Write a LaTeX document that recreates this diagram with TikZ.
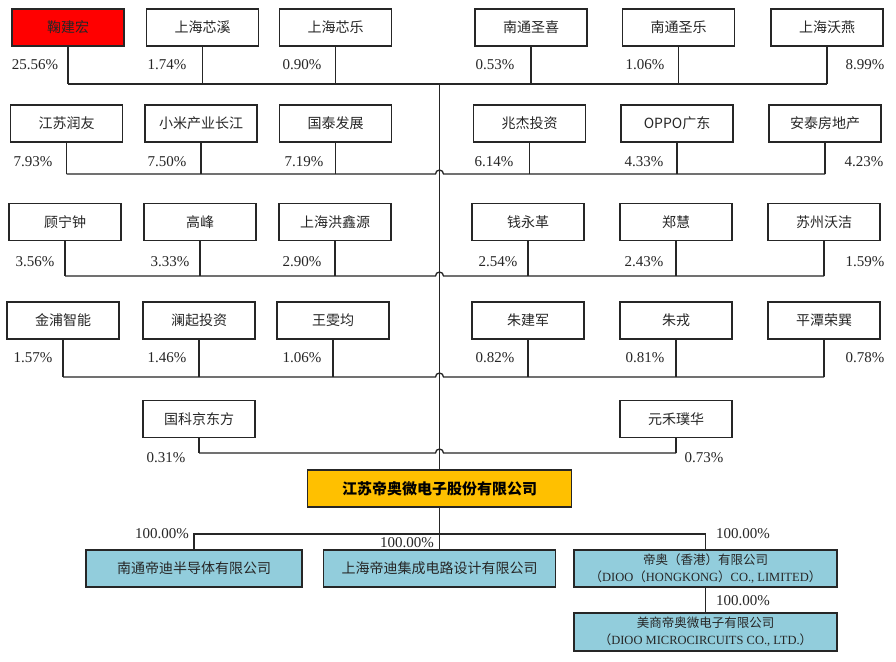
\documentclass[tikz,border=0pt]{standalone}
\usepackage{fontspec}
\setmainfont{Liberation Serif}
\newfontfamily\cjk{Noto Sans CJK SC}
\definecolor{redbox}{HTML}{FF0000}
\definecolor{orangebox}{HTML}{FFC000}
\definecolor{bluebox}{HTML}{92CDDC}
\definecolor{ink}{HTML}{262626}
\begin{document}
\begin{tikzpicture}[x=1pt,y=-1pt]
\tikzset{
  box/.style={draw=ink, line width=1.3pt, minimum width=112pt, minimum height=37pt, inner sep=0pt, text=ink, font=\cjk\fontsize{14}{16}\selectfont},
  subbox/.style={box, fill=bluebox, minimum height=37pt},
  pct/.style={inner sep=0pt, text=ink, font=\fontsize{15}{17}\selectfont},
  ln/.style={draw=ink, line width=1.3pt},
}
\fill[white] (0,0) rectangle (896,661);
\useasboundingbox (0,0) rectangle (896,661);

% Row 1
\node[box, fill=redbox] (a1) at (68,27.5) {鞠建宏};
\node[box] (b1) at (202.5,27.5) {上海芯溪};
\node[box] (c1) at (335.5,27.5) {上海芯乐};
\node[box] (d1) at (531,27.5) {南通圣喜};
\node[box] (e1) at (678.5,27.5) {南通圣乐};
\node[box] (f1) at (827,27.5) {上海沃燕};
\node[pct] (pa1) at (35,65) {25.56\%};
\node[pct] (pb1) at (167,65) {1.74\%};
\node[pct] (pc1) at (302,65) {0.90\%};
\node[pct] (pd1) at (495,65) {0.53\%};
\node[pct] (pe1) at (645,65) {1.06\%};
\node[pct] (pf1) at (865,65) {8.99\%};

% Row 2
\node[box] (a2) at (66.5,123.5) {江苏润友};
\node[box] (b2) at (201,123.5) {小米产业长江};
\node[box] (c2) at (335.5,123.5) {国泰发展};
\node[box] (d2) at (529.5,123.5) {兆杰投资};
\node[box] (e2) at (677,123.5) {OPPO广东};
\node[box] (f2) at (825,123.5) {安泰房地产};
\node[pct] (pa2) at (33,162) {7.93\%};
\node[pct] (pb2) at (167,162) {7.50\%};
\node[pct] (pc2) at (304,162) {7.19\%};
\node[pct] (pd2) at (494,162) {6.14\%};
\node[pct] (pe2) at (644,162) {4.33\%};
\node[pct] (pf2) at (864,162) {4.23\%};

% Row 3
\node[box] (a3) at (65,222) {顾宁钟};
\node[box] (b3) at (200,222) {高峰};
\node[box] (c3) at (335,222) {上海洪鑫源};
\node[box] (d3) at (528,222) {钱永革};
\node[box] (e3) at (676,222) {郑慧};
\node[box] (f3) at (824,222) {苏州沃洁};
\node[pct] (pa3) at (35,262) {3.56\%};
\node[pct] (pb3) at (170,262) {3.33\%};
\node[pct] (pc3) at (302,262) {2.90\%};
\node[pct] (pd3) at (498,262) {2.54\%};
\node[pct] (pe3) at (644,262) {2.43\%};
\node[pct] (pf3) at (865,262) {1.59\%};

% Row 4
\node[box] (a4) at (63,320.5) {金浦智能};
\node[box] (b4) at (199,320.5) {澜起投资};
\node[box] (c4) at (333,320.5) {王雯均};
\node[box] (d4) at (528,320.5) {朱建军};
\node[box] (e4) at (676,320.5) {朱戎};
\node[box] (f4) at (824,320.5) {平潭荣巽};
\node[pct] (pa4) at (33,358) {1.57\%};
\node[pct] (pb4) at (167,358) {1.46\%};
\node[pct] (pc4) at (302,358) {1.06\%};
\node[pct] (pd4) at (495,358) {0.82\%};
\node[pct] (pe4) at (645,358) {0.81\%};
\node[pct] (pf4) at (865,358) {0.78\%};

% Row 5
\node[box] (a5) at (199,419) {国科京东方};
\node[box] (f5) at (676,419) {元禾璞华};
\node[pct] (pa5) at (166,458) {0.31\%};
\node[pct] (pf5) at (704,458) {0.73\%};

% Main company
\node[box, fill=orangebox, minimum width=264pt, text=black, font=\cjk\bfseries\fontsize{15}{17}\selectfont] (main) at (439.5,488.5) {江苏帝奥微电子股份有限公司};

% Subsidiaries
\node[subbox, minimum width=216pt] (s1) at (194,568.5) {南通帝迪半导体有限公司};
\node[subbox, minimum width=232pt] (s2) at (439.5,568.5) {上海帝迪集成电路设计有限公司};
\node[subbox, minimum width=263pt, align=center, font=\cjk\fontsize{12.5}{17}\selectfont] (s3) at (705.5,568.5) {帝奥（香港）有限公司\\（{\rmfamily DIOO}（{\rmfamily HONGKONG}）{\rmfamily CO., LIMITED}）};
\node[subbox, minimum width=263pt, minimum height=38pt, align=center, font=\cjk\fontsize{12.5}{17}\selectfont] (s4) at (705.5,632) {美商帝奥微电子有限公司\\（{\rmfamily DIOO MICROCIRCUITS CO., LTD.}）};
\node[pct] (ps1) at (162,534) {100.00\%};
\node[pct] (ps2) at (407,543) {100.00\%};
\node[pct] (ps3) at (743,534) {100.00\%};
\node[pct] (ps4) at (743,601) {100.00\%};

% Junctions on the trunk
\coordinate (j1) at (439.5,84);
\coordinate (j2) at (439.5,174);
\coordinate (j3) at (439.5,276);
\coordinate (j4) at (439.5,377);
\coordinate (j5) at (439.5,453);
\coordinate (js) at (439.5,534);

% Stems
\foreach \r/\j in {1/j1,2/j2,3/j3,4/j4}{
  \foreach \n in {a,b,c,d,e,f}{
    \draw[ln] (\n\r.south) -- (\n\r.south |- \j);
  }
}
\draw[ln] (a5.south) -- (a5.south |- j5);
\draw[ln] (f5.south) -- (f5.south |- j5);

% Row lines
\draw[ln] (a1.south |- j1) -- (f1.south |- j1);
\foreach \r/\j in {2/j2,3/j3,4/j4,5/j5}{
  \draw[ln] (a\r.south |- \j) -- ([xshift=-4pt]\j) arc[start angle=180, end angle=0, radius=4pt] -- (f\r.south |- \j);
}

% Trunk
\draw[ln] (j1) -- (main.north);
\draw[ln] (main.south) -- (s2.north);
\draw[ln] (s1.north) -- (s1.north |- js) -- (s3.north |- js) -- (s3.north);
\draw[ln] (s3.south) -- (s4.north);
\end{tikzpicture}
\end{document}
